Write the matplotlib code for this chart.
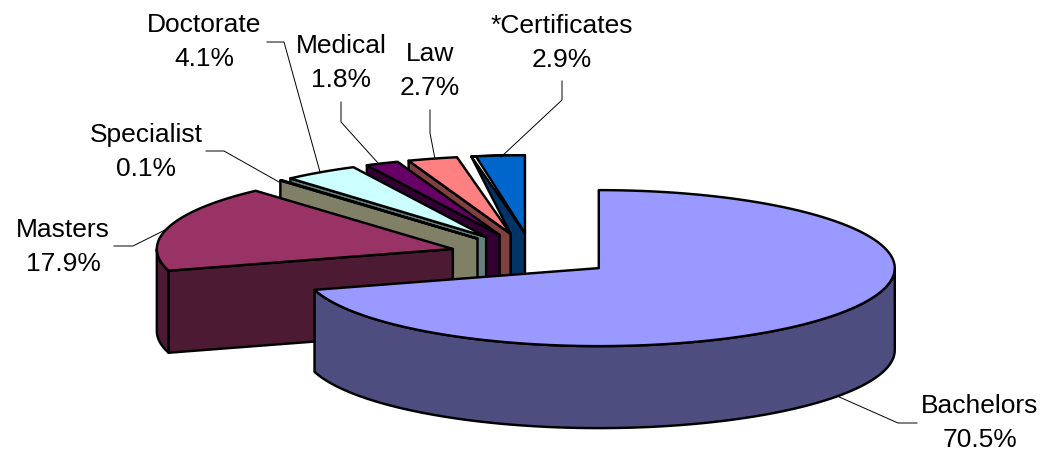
import numpy as np
import matplotlib
matplotlib.use('Agg')
import matplotlib.pyplot as plt

categories = ['Bachelors', 'Masters', 'Specialist', 'Doctorate', 'Medical', 'Law', '*Certificates']
percents = [70.5, 17.9, 0.1, 4.1, 1.8, 2.7, 2.9]
top_colors = ['#9999FF', '#993366', '#FFFFCC', '#CCFFFF', '#660066', '#FF8080', '#0066CC']
wall_colors = ['#4D4D80', '#4D1A33', '#808066', '#668080', '#330033', '#804040', '#003366']

# label block centres and leader lines, in pixels of the 1043x454 picture
label_pos = [(980, 423), (63, 247), (146, 152), (204, 42), (341, 63), (430, 71), (562, 43)]
leaders = [
    [(837, 396), (898, 423), (917, 423)],
    [(114, 246), (133, 246), (167, 229)],
    [(206, 151), (224, 151), (279, 182)],
    [(267, 42), (284, 42), (320, 172)],
    [(341, 102), (341, 122), (378, 163)],
    [(430, 110), (430, 133), (435, 159)],
    [(562, 81), (562, 100), (501, 157)],
]

CX, CY = 532.5, 255.0
RX, RY = 296.0, 78.0
DEPTH = 82.0
EXPLODE = 0.28
LW = 1.75

plt.rcParams['font.family'] = ['Liberation Sans', 'DejaVu Sans']

fig = plt.figure(figsize=(10.43, 4.54), dpi=100)
ax = fig.add_axes([0, 0, 1, 1])
ax.set_xlim(0, 1043)
ax.set_ylim(454, 0)
ax.axis('off')


def rim(apex, a0, a1, n=120):
    # points on the ellipse, angle in degrees clockwise from 12 o'clock
    t = np.radians(np.linspace(a0, a1, n))
    return np.column_stack([apex[0] + RX * np.sin(t), apex[1] - RY * np.cos(t)])


def poly(pts, color):
    ax.fill(pts[:, 0], pts[:, 1], facecolor=color, edgecolor='black', lw=LW, joinstyle='round')


def down(pts):
    return pts + np.array([0, DEPTH])


edges = np.concatenate([[0], np.cumsum(percents)]) * 3.6
apexes = []
for i in range(len(percents)):
    mid = np.radians((edges[i] + edges[i + 1]) / 2)
    apexes.append((CX + EXPLODE * RX * np.sin(mid), CY - EXPLODE * RY * np.cos(mid)))

# back slices first, the big front slice last
for i in range(len(percents) - 1, 0, -1):
    a0, a1 = edges[i], edges[i + 1]
    apex = np.array([apexes[i]])
    start = rim(apexes[i], a0, a0, 1)
    if i == len(percents) - 1:
        # the wall of the last slice stops at the apex of the one before it,
        # its top starts a little inside so the dark face shows at the corner
        nb = np.array([apexes[i - 1]])
        wall = np.vstack([start, nb, down(nb), down(apex), apex, rim(apexes[i], a0, a1, 30)])
        poly(wall, wall_colors[i])
        a0 += 0.9
    else:
        wall = np.vstack([start, apex, down(apex), down(start)])
        poly(wall, wall_colors[i])
    if a0 < 270:
        band = rim(apexes[i], a0, 270)
        poly(np.vstack([band, down(band)[::-1]]), wall_colors[i])
    poly(np.vstack([apex, rim(apexes[i], a0, a1)]), top_colors[i])

# Bachelors
band = rim(apexes[0], 90, edges[1])
poly(np.vstack([band, down(band)[::-1]]), wall_colors[0])
poly(np.vstack([[apexes[0]], rim(apexes[0], edges[0], edges[1])]), top_colors[0])

for name, pct, (x, y), line in zip(categories, percents, label_pos, leaders):
    ax.text(x, y, f'{name}\n{pct}%', ha='center', va='center', fontsize=19,
            linespacing=1.48, color='black')
    xs, ys = zip(*line)
    ax.plot(xs, ys, color='black', lw=0.7, zorder=1)

fig.savefig('out.png', dpi=100)
